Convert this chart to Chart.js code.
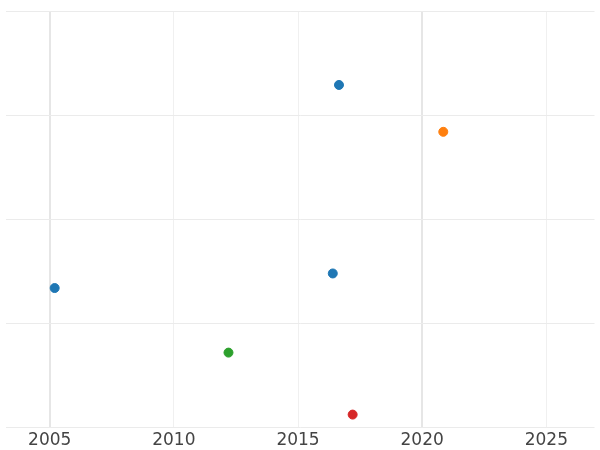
<!DOCTYPE html>
<html><head><script src="https://cdn.jsdelivr.net/npm/chart.js@4"></script>
<style>body{margin:0}#w{width:600px;height:450px}</style></head>
<body><div id="w"><canvas id="c"></canvas></div>
<script>
const blueX=[2016.65,2005.2,2016.4];
const blueY=[3.29,1.34,1.48];
const orangeX=[2020.85], orangeY=[2.84];
const greenX=[2012.2], greenY=[0.72];
const redX=[2017.2], redY=[0.125];
const xTicks=[2005,2010,2015,2020,2025];
const mk=(xs,ys)=>xs.map((x,i)=>({x,y:ys[i]}));
const ds=(xs,ys,c)=>({data:mk(xs,ys),backgroundColor:c,borderColor:c,pointRadius:4.5,pointHoverRadius:4.5});
new Chart(document.getElementById('c'),{type:'scatter',
data:{datasets:[ds(blueX,blueY,'#1f77b4'),ds(orangeX,orangeY,'#ff7f0e'),ds(greenX,greenY,'#2ca02c'),ds(redX,redY,'#d62728')]},
options:{responsive:true,maintainAspectRatio:false,animation:false,
layout:{padding:{top:11,left:-6,right:-6,bottom:-4}},
plugins:{legend:{display:false},tooltip:{enabled:false}},
scales:{
x:{type:'linear',min:2003.22,max:2026.94,afterBuildTicks:a=>{a.ticks=xTicks.map(v=>({value:v}));},
ticks:{color:'#444',font:{family:'DejaVu Sans',size:17},padding:3,callback:v=>String(v)},
grid:{color:c=>(c.tick&&(c.tick.value===2005||c.tick.value===2020))?'#e6e6e6':'#f0f0f0',lineWidth:c=>(c.tick&&(c.tick.value===2005||c.tick.value===2020))?2:1,drawTicks:false},border:{display:false}},
y:{min:0,max:4,ticks:{display:false,stepSize:1},grid:{color:'#ebebeb',drawTicks:false},border:{display:false}}
}}});
</script></body></html>
